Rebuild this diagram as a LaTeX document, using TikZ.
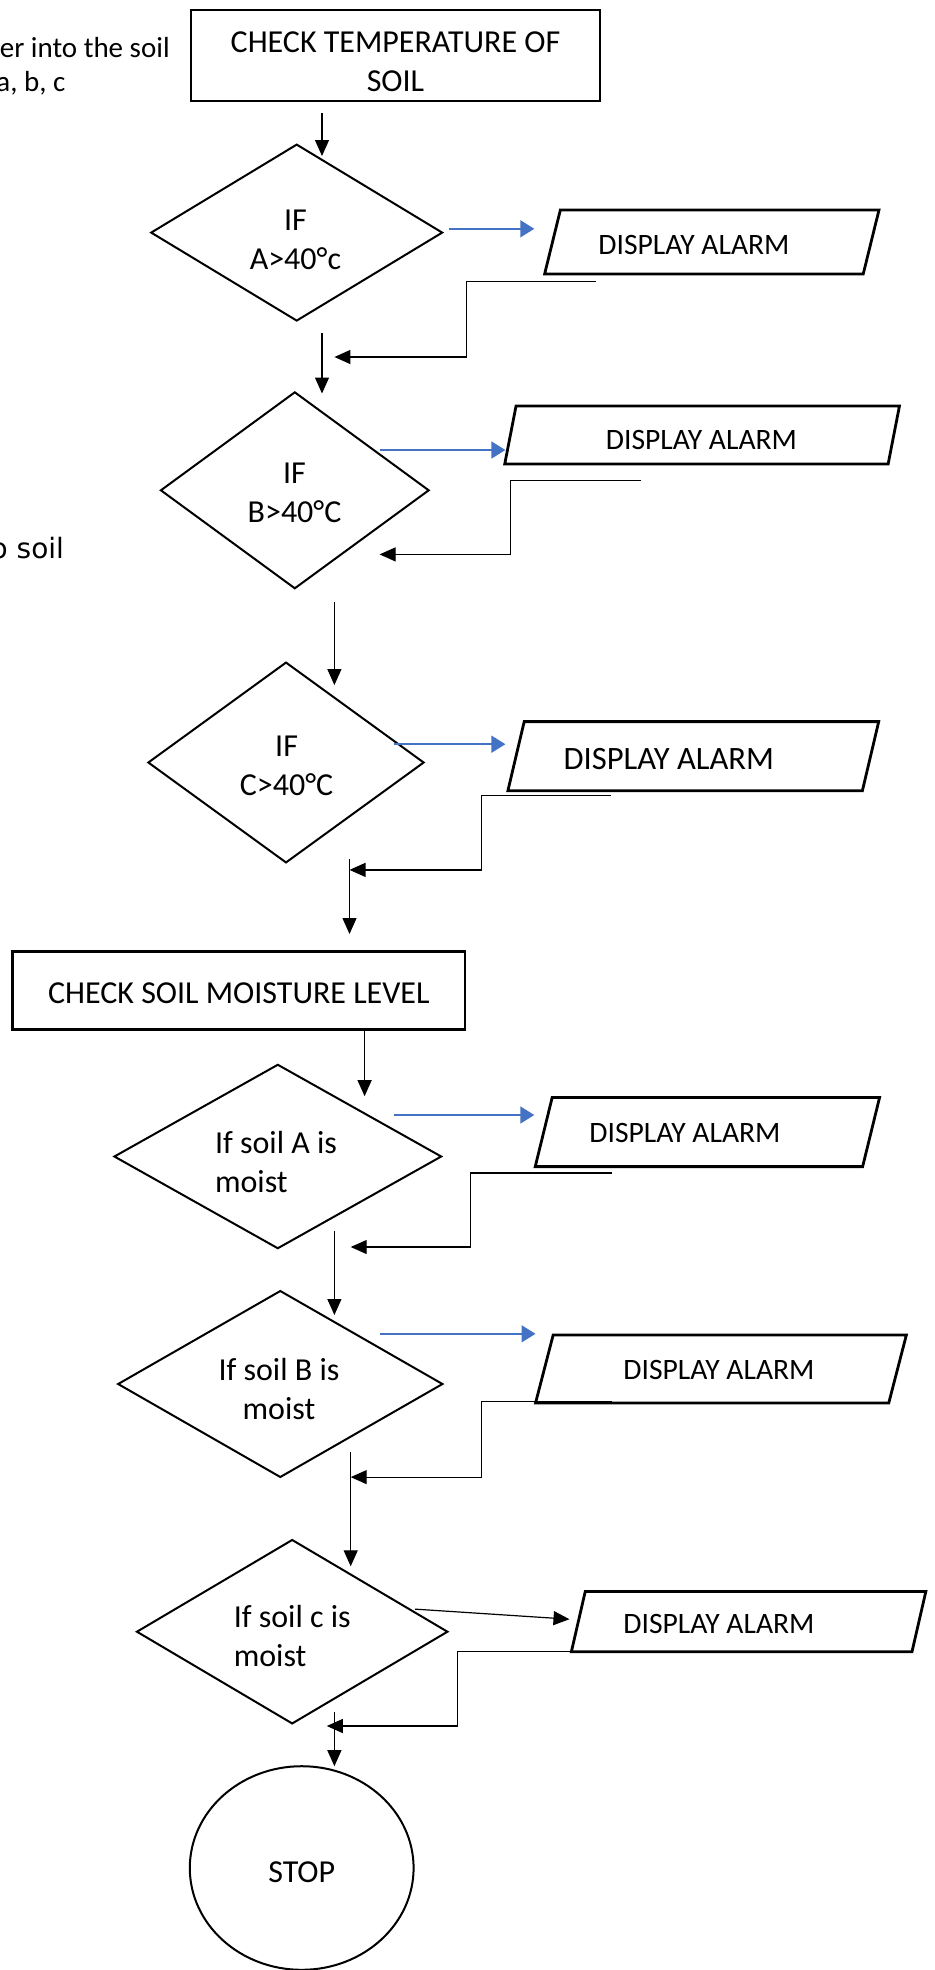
\documentclass[tikz,border=0pt]{standalone}
\usepackage{fontspec}
\setmainfont{Carlito}
\newfontfamily\dejavu{DejaVu Sans}
\usetikzlibrary{shapes.geometric,arrows.meta}
\definecolor{bluearr}{HTML}{4472C4}
\begin{document}
\begin{tikzpicture}[x=0.5pt,y=-0.5pt,
  every node/.style={inner sep=0pt, outer sep=0pt},
  txt/.style={font=\fontsize{16}{19.5}\selectfont, align=center},
  smalltxt/.style={font=\fontsize{14.8}{17}\selectfont},
  sidetxt/.style={font=\fontsize{14.5}{17}\selectfont, anchor=base east},
  boxnode/.style={draw, line width=1.2pt, rectangle, txt},
  dia/.style={draw, line width=1pt, diamond},
  paranode/.style={draw, line width=1.4pt, rectangle},
  arr/.style={line width=0.6pt, -{Triangle[length=8pt,width=7pt]}},
  barr/.style={draw=bluearr, line width=0.8pt, -{Triangle[length=7pt,width=8.5pt]}, bluearr},
  ret/.style={line width=0.6pt, -{Triangle[length=8pt,width=7pt]}},
]
\fill[white] (0,0) rectangle (934,1970);
\useasboundingbox (0,0) rectangle (934,1970);

% side texts (cut off at left edge)
\node[sidetxt] (s1) at (169.7,57.8) {er into the soil};
\node[sidetxt] (s2) at (65.4,91.8) {a, b, c};
\node[anchor=base east, font=\dejavu\fontsize{14}{17}\selectfont] (s3) at (64,558) {o soil};

% top box
\node[boxnode, minimum width=204.5pt, minimum height=45.5pt] (top) at (395.5,55.5) {};
\node[txt] (ttop) at (395.5,61.5) {CHECK TEMPERATURE OF\\SOIL};

% diamonds
\node[dia, minimum width=145.5pt, minimum height=88pt] (dA) at (296.7,232.6) {};
\node[txt] (tA) at (295.4,240) {IF\\A>40°c};
\node[dia, minimum width=133.9pt, minimum height=98pt] (dB) at (294.8,490.3) {};
\node[txt] (tB) at (294.5,492.8) {IF\\B>40°C};
\node[dia, minimum width=137.65pt, minimum height=99.95pt] (dC) at (286,762.5) {};
\node[txt] (tC) at (286.6,765.5) {IF\\C>40°C};

% parallelograms (slanted rectangles)
\node[paranode, xslant=0.246, minimum width=159.3pt, minimum height=32.05pt] (pA) at (711.8,242) {};
\node[smalltxt] (ptA) at (694,245) {DISPLAY ALARM};
\node[paranode, xslant=0.195, minimum width=191.7pt, minimum height=28.95pt] (pB) at (702.1,434.95) {};
\node[smalltxt] (ptB) at (701.5,440) {DISPLAY ALARM};
\node[paranode, xslant=0.236, minimum width=177.25pt, minimum height=34.55pt] (pC) at (693.3,756.15) {};
\node[font=\fontsize{16.3}{19}\selectfont] (ptC) at (668.8,759.3) {DISPLAY ALARM};

% second box
\node[boxnode, minimum width=226.25pt, minimum height=39pt] (mid) at (238.9,990.6) {};
\node[txt] (tmid) at (238.9,993) {CHECK SOIL MOISTURE LEVEL};

\node[dia, minimum width=163.4pt, minimum height=91.75pt] (dD) at (277.8,1156.5) {};
\node[txt, align=left, anchor=west] (tD) at (215,1161.5) {If soil A is\\moist};
\node[dia, minimum width=162.15pt, minimum height=93pt] (dE) at (280.3,1384) {};
\node[txt] (tE) at (279,1388.5) {If soil B is\\moist};
\node[dia, minimum width=155.25pt, minimum height=91.75pt] (dF) at (292.2,1631.7) {};
\node[txt, align=left, anchor=west] (tF) at (233.8,1635.5) {If soil c is\\moist};

\node[paranode, xslant=0.245, minimum width=163.7pt, minimum height=34.55pt] (pD) at (707.4,1132.05) {};
\node[smalltxt] (ptD) at (685,1132.7) {DISPLAY ALARM};
\node[paranode, xslant=0.259, minimum width=176.6pt, minimum height=34pt] (pE) at (720.95,1369) {};
\node[smalltxt] (ptE) at (719,1370.2) {DISPLAY ALARM};
\node[paranode, xslant=0.23, minimum width=170.3pt, minimum height=30.15pt] (pF) at (748.6,1621.65) {};
\node[smalltxt] (ptF) at (719,1624.2) {DISPLAY ALARM};

% stop
\node[draw, line width=1pt, ellipse, minimum width=111.9pt, minimum height=101.8pt] (stop) at (301.7,1868) {};
\node[txt] (tstop) at (301.7,1872.5) {STOP};

% connector coordinates
\coordinate (a1s) at (322,113);   \coordinate (a1e) at (322,156);
\coordinate (bAs) at (448.8,228.8); \coordinate (bAe) at (534.3,228.8);
\coordinate (rAs) at (595.9,281.6); \coordinate (rAm1) at (466.4,281.6); \coordinate (rAm2) at (466.4,357); \coordinate (rAe) at (334.4,357);
\coordinate (a2s) at (322,333);   \coordinate (a2e) at (322,393.5);
\coordinate (bBs) at (379.6,450); \coordinate (bBe) at (505.4,450);
\coordinate (rBs) at (641.1,480.2); \coordinate (rBm1) at (510.4,480.2); \coordinate (rBm2) at (510.4,554.4); \coordinate (rBe) at (379.6,554.4);
\coordinate (a3s) at (334.4,602.2); \coordinate (a3e) at (334.4,685.1);
\coordinate (bCs) at (393.5,744.2); \coordinate (bCe) at (505.4,744.2);
\coordinate (rCs) at (611,795.7); \coordinate (rCm1) at (481.5,795.7); \coordinate (rCm2) at (481.5,869.9); \coordinate (rCe) at (349.5,869.9);
\coordinate (a4s) at (349.5,858.6); \coordinate (a4e) at (349.5,934);
\coordinate (a5s) at (364.6,1029.6); \coordinate (a5e) at (364.6,1096.2);
\coordinate (bDs) at (393.5,1115); \coordinate (bDe) at (534.3,1115);
\coordinate (rDs) at (612.2,1172.9); \coordinate (rDm1) at (470.2,1172.9); \coordinate (rDm2) at (470.2,1247); \coordinate (rDe) at (350.7,1247);
\coordinate (a6s) at (334.4,1230.7); \coordinate (a6e) at (334.4,1315);
\coordinate (bEs) at (379.6,1333.8); \coordinate (bEe) at (535.5,1333.8);
\coordinate (rEs) at (612.2,1401.7); \coordinate (rEm1) at (481.5,1401.7); \coordinate (rEm2) at (481.5,1477.1); \coordinate (rEe) at (350.7,1477.1);
\coordinate (a7s) at (350.7,1452); \coordinate (a7e) at (350.7,1566.3);
\coordinate (bFs) at (414.8,1609.1); \coordinate (bFe) at (569.5,1619.2);
\coordinate (rFs) at (569.5,1651.8); \coordinate (rFm1) at (457.6,1651.8); \coordinate (rFm2) at (457.6,1726); \coordinate (rFe) at (326.8,1726);
\coordinate (a8s) at (334.4,1712.2); \coordinate (a8e) at (334.4,1766.2);

% connectors
\draw[arr] (a1s) -- (a1e);
\draw[barr] (bAs) -- (bAe);
\draw[ret] (rAs) -- (rAm1) -- (rAm2) -- (rAe);
\draw[arr] (a2s) -- (a2e);
\draw[barr] (bBs) -- (bBe);
\draw[ret] (rBs) -- (rBm1) -- (rBm2) -- (rBe);
\draw[arr] (a3s) -- (a3e);
\draw[barr] (bCs) -- (bCe);
\draw[ret] (rCs) -- (rCm1) -- (rCm2) -- (rCe);
\draw[arr] (a4s) -- (a4e);
\draw[arr] (a5s) -- (a5e);
\draw[barr] (bDs) -- (bDe);
\draw[ret] (rDs) -- (rDm1) -- (rDm2) -- (rDe);
\draw[arr] (a6s) -- (a6e);
\draw[barr] (bEs) -- (bEe);
\draw[ret] (rEs) -- (rEm1) -- (rEm2) -- (rEe);
\draw[arr] (a7s) -- (a7e);
\draw[arr] (bFs) -- (bFe);
\draw[ret] (rFs) -- (rFm1) -- (rFm2) -- (rFe);
\draw[arr] (a8s) -- (a8e);
\end{tikzpicture}
\end{document}
